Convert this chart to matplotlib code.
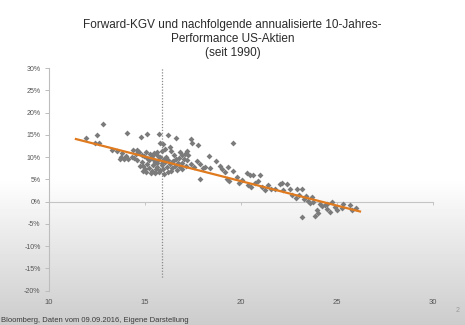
import matplotlib
matplotlib.use("Agg")
import matplotlib.pyplot as plt
import numpy as np

# Forward-KGV (x) und annualisierte 10-Jahres-Rendite in % (y)
kgv = [
    11.93, 12.5, 12.8, 12.4, 12.6, 13.26, 13.52, 13.75, 13.9, 13.78, 13.7, 14.0,
    14.13, 14.31, 14.39, 14.6, 14.7, 14.53, 14.83, 15.05, 15.26, 15.47, 15.61,
    14.08, 14.78, 15.12, 15.73, 16.18, 16.62, 15.78, 15.96, 16.3, 16.34, 17.38,
    17.47, 17.78, 19.6,
    14.83, 14.91, 15.0, 15.12, 15.23, 15.35, 15.43, 15.52, 15.64, 15.75, 15.87,
    15.96, 16.04, 16.13, 16.22, 16.3, 16.39, 16.48, 16.56, 16.65, 16.74, 16.82,
    16.91, 17.03, 14.74, 15.05, 15.3, 15.78, 16.1, 16.91, 17.08, 17.26, 17.17,
    17.38, 17.55, 17.69, 17.86, 18.0, 17.86, 18.13,
    15.2, 15.4, 15.6, 15.7, 15.9, 16.0, 16.2, 16.4, 16.6, 15.5, 15.8, 16.0,
    16.35, 15.1, 14.95, 15.35, 14.6, 14.45, 16.75, 16.5, 16.8, 17.2, 15.65,
    15.9, 16.05, 14.9, 15.55, 16.95, 17.15,
    18.35, 18.7, 18.4, 19.0, 19.18, 19.6, 19.29, 19.39, 19.91, 20.3, 20.47,
    20.64, 21.0, 20.38, 20.5, 20.73, 20.04, 21.25, 21.55, 21.77, 22.03, 22.12,
    22.41, 22.2, 22.55, 22.64, 22.87, 22.94, 23.16, 23.39, 23.51, 23.77, 23.16,
    23.94, 23.85, 24.03, 24.2, 24.38, 24.46, 24.72, 24.64, 24.9, 25.02, 25.24,
    25.3, 25.68, 25.76, 26.0,
    18.9, 19.35, 19.8, 20.9, 21.4, 21.1, 23.6, 23.3, 24.1, 24.5, 23.7, 23.0,
]
rendite = [
    14.4, 15.0, 17.4, 13.2, 13.1, 11.7, 11.4, 10.1, 9.6, 11.0, 9.7, 10.2,
    9.7, 10.1, 11.6, 11.7, 11.2, 10.8, 10.5, 11.2, 10.8, 11.0, 11.2,
    15.5, 14.6, 15.3, 15.2, 14.9, 14.4, 13.2, 12.9, 12.2, 11.4, 14.0,
    13.2, 12.7, 13.1,
    9.0, 8.0, 7.3, 8.5, 7.5, 7.0, 8.2, 9.0, 7.7, 6.7, 8.2,
    7.3, 9.0, 7.7, 6.7, 8.4, 7.5, 9.2, 8.0, 7.1, 8.6, 7.7,
    8.7, 9.7, 8.0, 6.7, 6.4, 10.1, 10.1, 10.5, 10.8, 10.5, 9.3,
    8.4, 7.8, 9.2, 8.4, 7.5, 5.2, 7.7,
    9.3, 9.6, 8.6, 9.4, 8.8, 9.7, 9.4, 8.9, 9.5, 6.5, 7.2, 6.3,
    6.9, 9.9, 10.2, 10.3, 9.4, 9.9, 9.9, 10.4, 11.1, 11.4, 10.5,
    11.5, 11.9, 7.0, 7.3, 7.3, 8.1,
    10.2, 9.2, 7.5, 7.3, 6.7, 7.0, 5.0, 4.7, 4.1, 6.5, 6.1,
    6.1, 6.0, 3.7, 3.4, 4.3, 4.9, 2.6, 2.8, 2.8, 4.0, 4.3,
    4.0, 2.6, 2.8, 1.5, 0.8, 2.8, 2.8, 1.3, 0.2, 0.0, -3.5,
    -1.9, -3.2, -2.6, -1.0, -0.7, -0.4, 0.0, -2.2, -1.1, -1.9, -1.5,
    -0.4, -0.7, -1.9, -1.3,
    8.1, 7.9, 5.5, 4.6, 3.8, 3.3, -0.3, 0.6, -0.6, -1.6, 1.0, 1.5,
]

# lineare Trendlinie (Steigung, Achsenabschnitt) und ihr KGV-Bereich
trend_steigung = -1.10
trend_achse = 26.63
trend_von, trend_bis = 11.4, 26.2

aktuelles_kgv = 15.9
x_ticks = [10, 15, 20, 25, 30]
y_ticks = [30, 25, 20, 15, 10, 5, 0, -5, -10, -15, -20]

title = "Forward-KGV und nachfolgende annualisierte 10-Jahres-\nPerformance US-Aktien\n(seit 1990)"
quelle = "Bloomberg, Daten vom 09.09.2016, Eigene Darstellung"

plt.rcParams["font.family"] = ["Liberation Sans", "DejaVu Sans"]

fig = plt.figure(figsize=(4.65, 3.25), dpi=100)

# slide background: white fading into grey towards the bottom
bg = fig.add_axes([0, 0, 1, 1], zorder=-10)
rows = np.linspace(0, 1, 325)
shade = np.interp(rows, [0.0, 0.55, 0.7, 1.0], [1.0, 1.0, 0.93, 0.8])
bg.imshow(np.tile(shade[:, None], (1, 2)), cmap="gray", vmin=0, vmax=1,
          aspect="auto", extent=[0, 1, 0, 1], origin="upper")
bg.axis("off")

ax = fig.add_axes([0.1054, 0.1055, 0.8256, 0.6845])
ax.set_facecolor("none")

ax.scatter(kgv, rendite, marker="D", s=9, color="#7b7b7b", linewidths=0, zorder=3)

xs = np.array([trend_von, trend_bis])
ax.plot(xs, trend_steigung * xs + trend_achse, color="#e07a1f", lw=1.6, zorder=4)

ax.plot([aktuelles_kgv, aktuelles_kgv], [30.5, -17.2], color="#8a8a8a",
        lw=0.9, ls=(0, (1, 1.3)), zorder=2)

ax.set_xlim(10, 30)
ax.set_ylim(-20, 30)
ax.set_yticks(y_ticks, labels=[f"{v}%" for v in y_ticks])
ax.set_xticks(x_ticks, labels=[str(v) for v in x_ticks])

for s in ["top", "right", "bottom"]:
    ax.spines[s].set_visible(False)
ax.spines["left"].set_color("#bdbdbd")
ax.spines["left"].set_linewidth(0.8)
ax.tick_params(axis="y", length=3, width=0.7, color="#bdbdbd",
               labelsize=5, labelcolor="#555555", pad=3)
ax.tick_params(axis="x", length=0, labelsize=5.5, labelcolor="#555555", pad=6)

# horizontal axis line at 0 % with its tick marks
nulllinie = ax.secondary_xaxis(0.4)
nulllinie.set_xticks(x_ticks, labels=[])
nulllinie.spines["bottom"].set_color("#c4c4c4")
nulllinie.spines["bottom"].set_linewidth(0.8)
nulllinie.tick_params(length=2.5, width=0.7, color="#c4c4c4")

fig.text(0.5, 0.943, title, ha="center", va="top", fontsize=8.5,
         color="#2b2b2b", linespacing=1.25)
fig.text(0.003, 0.003, quelle, ha="left", va="bottom", fontsize=5.5,
         color="#3a3a3a")
fig.text(0.985, 0.035, "2", ha="center", va="bottom", fontsize=5,
         color="#9a9a9a")

fig.savefig("out.png", dpi=100)
